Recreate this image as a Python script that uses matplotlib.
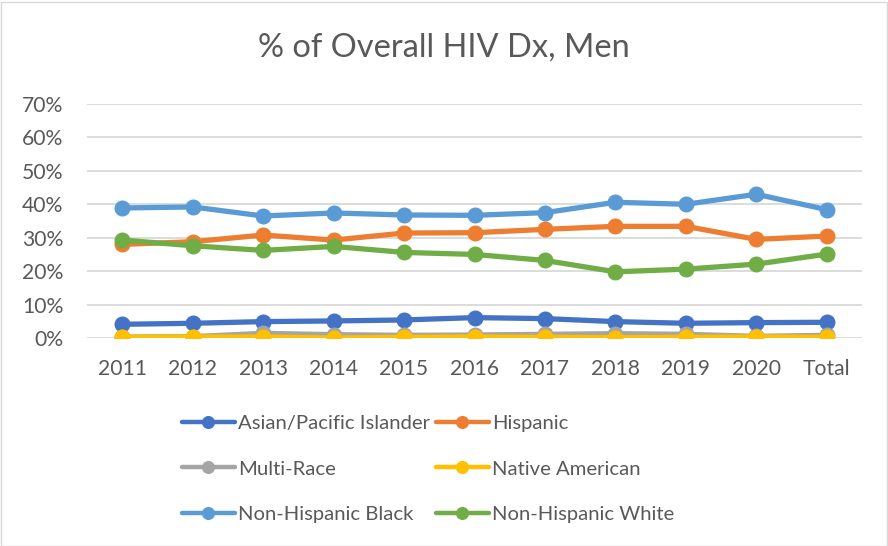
import matplotlib
matplotlib.use("Agg")
import matplotlib.pyplot as plt
from matplotlib.ticker import PercentFormatter
from matplotlib.patches import Rectangle

plt.rcParams['font.family'] = ['Lato', 'DejaVu Sans']

categories = ["2011", "2012", "2013", "2014", "2015", "2016", "2017", "2018", "2019", "2020", "Total"]
asian = [4.1, 4.4, 4.9, 5.1, 5.4, 6.1, 5.8, 4.9, 4.4, 4.6, 4.7]
hispanic = [28.0, 28.8, 30.8, 29.3, 31.4, 31.5, 32.5, 33.4, 33.4, 29.5, 30.5]
multi = [0.3, 0.4, 1.4, 1.0, 0.8, 0.9, 1.1, 1.3, 1.1, 0.5, 0.8]
native = [0.2, 0.3, 0.3, 0.0, 0.2, 0.3, 0.2, 0.1, 0.2, 0.3, 0.2]
black = [38.9, 39.2, 36.5, 37.4, 36.8, 36.7, 37.5, 40.6, 40.0, 43.0, 38.4]
white = [29.3, 27.6, 26.2, 27.4, 25.6, 25.0, 23.2, 19.8, 20.6, 22.1, 25.1]

series = [
    ("Asian/Pacific Islander", asian, "#4472C4"),
    ("Hispanic", hispanic, "#ED7D31"),
    ("Multi-Race", multi, "#A5A5A5"),
    ("Native American", native, "#FFC000"),
    ("Non-Hispanic Black", black, "#5B9BD5"),
    ("Non-Hispanic White", white, "#70AD47"),
]

fig = plt.figure(figsize=(8.88, 5.46), dpi=100)
ax = fig.add_axes([87/888, 1-338/546, (862-87)/888, (338-104)/546])

x = list(range(len(categories)))
lines = []
for name, vals, col in series:
    ln, = ax.plot(x, vals, color=col, lw=3.8, marker='o', ms=10.5, label=name,
                  solid_capstyle='round', zorder=3)
    lines.append(ln)

ax.set_ylim(0, 70)
ax.set_xlim(-0.5, len(categories) - 0.5)
ax.set_yticks(range(0, 71, 10))
ax.yaxis.set_major_formatter(PercentFormatter(decimals=0))
ax.set_xticks(x)
ax.set_xticklabels(categories)
ax.grid(axis='y', color='#D9D9D9', lw=1.3, zorder=0)
ax.set_axisbelow(True)
for s in ax.spines.values():
    s.set_visible(False)
ax.tick_params(axis='both', length=0, labelsize=15.2, colors='#595959')
ax.tick_params(axis='x', pad=15)
ax.tick_params(axis='y', pad=17)

fig.text(0.5, 1-48/546, "% of Overall HIV Dx, Men", ha='center', va='center',
         fontsize=23.5, color='#595959')

leg_kw = dict(frameon=False, fontsize=14.6, handlelength=2.6, handletextpad=0.15,
              labelspacing=1.4, labelcolor='#595959', borderpad=0, borderaxespad=0,
              markerscale=0.8, loc='center left')
col1 = [lines[0], lines[2], lines[4]]
col2 = [lines[1], lines[3], lines[5]]
leg1 = fig.legend(col1, [l.get_label() for l in col1],
                  bbox_to_anchor=(182/888, 1-469/546), **leg_kw)
leg2 = fig.legend(col2, [l.get_label() for l in col2],
                  bbox_to_anchor=(436/888, 1-469/546), **leg_kw)
for lg in (leg1, leg2):
    for h in lg.legend_handles:
        h.set_linewidth(3.2)

fig.patches.append(Rectangle((0.5/888, 0.5/546), 1-2/888, 1-2/546, transform=fig.transFigure,
                             fill=False, edgecolor='#D9D9D9', lw=1))

fig.savefig("out.png", dpi=100)
